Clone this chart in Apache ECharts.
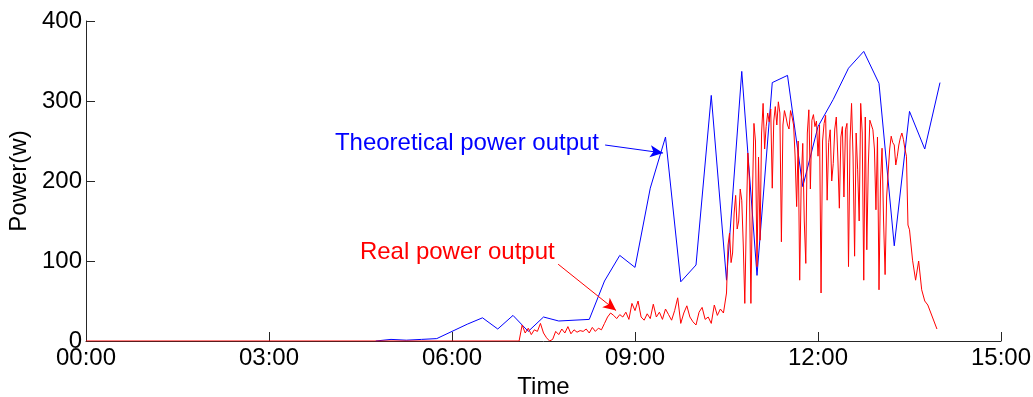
<!DOCTYPE html>
<html>
<head>
<meta charset="utf-8">
<script src="https://cdn.jsdelivr.net/npm/echarts@6/dist/echarts.min.js"></script>
<style>
  html, body { margin: 0; padding: 0; background: #fff; }
  #chart { width: 1033px; height: 397px; }
</style>
</head>
<body>
<div id="chart"></div>
<script>
// theoretical output, sampled every 15 min from 04:45
var blueStart = 4.75;
var blueStep = 0.25;
var blueValues = [0, 2, 1, 2, 3, 12, 21, 29, 15, 32, 12, 30, 25, 26, 27, 75, 107, 92, 191, 255,
    74, 95, 307, 76, 337, 82, 323, 332, 193, 268, 302, 341, 362, 322, 119, 287, 240, 323];

// real output: zero until 07:06, then three stretches
var redQuietStart = 7.1, redQuietStep = 0.05;
var redQuiet = [
    0, 20, 10, 16, 8, 14, 12, 22, 10, 4, 0, 2, 12, 8, 15, 10, 18, 9, 14, 11, 13, 12, 15, 10, 17, 12, 16, 14, 22,
    30, 35, 32, 28, 33, 30, 36, 27, 47, 38, 50, 30, 26, 34, 28, 46, 30, 36, 27, 40, 33, 26, 38, 54, 22,
    35, 44, 30, 24, 20, 36, 42, 27, 30, 22, 45, 32, 40, 35
];
var redBusyStart = 10.5, redBusyStep = 0.025;
var redBusy = [
    60, 120, 135, 98, 110, 160, 182, 140, 150, 190, 176, 120, 47, 150, 235, 200, 47, 180, 272, 250,
    93, 230, 126, 260, 297, 240, 268, 285, 274, 290, 191, 275, 293, 270, 299, 285, 124, 270, 288, 280,
    270, 265, 288, 280, 270, 230, 168, 250, 76, 200, 247, 150, 97, 260, 289, 190, 276, 283, 268, 275,
    231, 270, 60, 250, 272, 282, 176, 248, 264, 200, 222, 265, 280, 230, 166, 255, 268, 180, 264, 272,
    93, 250, 297, 230, 106, 260, 214, 150, 297, 260, 76, 280, 114, 220, 276, 270, 264, 240, 164, 255,
    64, 200, 241, 150, 83, 180, 210, 240, 256, 248, 245, 220, 231, 245, 254, 260, 252, 240, 231, 145,
    139
];
var redTailStart = 13.55, redTailStep = 0.05;
var redTail = [101, 76, 100, 64, 50, 45, 35, 25, 15];

var blueLabel = 'Theoretical power output';
var redLabel = 'Real power output';

function toPoints(values, start, step) {
    return values.map(function (v, i) { return [start + i * step, v]; });
}
var blueData = toPoints(blueValues, blueStart, blueStep);
var redData = [[0, 0]]
    .concat(toPoints(redQuiet, redQuietStart, redQuietStep))
    .concat(toPoints(redBusy, redBusyStart, redBusyStep))
    .concat(toPoints(redTail, redTailStart, redTailStep));

var font = '"Liberation Sans", Arial, sans-serif';
var chart = echarts.init(document.getElementById('chart'));

var axisCommon = {
    axisLine: { show: true, lineStyle: { color: '#262626', width: 1 } },
    axisTick: { show: true, inside: true, length: 9, lineStyle: { color: '#262626' } },
    splitLine: { show: false },
    nameTextStyle: { color: '#000', fontSize: 24, fontFamily: font }
};

chart.setOption({
    animation: false,
    grid: { left: 86, right: 32, top: 21, bottom: 56, outerBoundsMode: 'none', containLabel: false },
    xAxis: Object.assign({}, axisCommon, {
        type: 'value',
        min: 0, max: 15, interval: 3,
        name: 'Time', nameLocation: 'middle', nameGap: 31,
        axisLabel: {
            color: '#000', fontSize: 24, fontFamily: font, margin: 5,
            formatter: function (v) { return (v < 10 ? '0' : '') + v + ':00'; }
        }
    }),
    yAxis: Object.assign({}, axisCommon, {
        type: 'value',
        min: 0, max: 400, interval: 100,
        name: 'Power(w)', nameLocation: 'middle', nameGap: 54,
        axisLabel: { color: '#000', fontSize: 24, fontFamily: font, margin: 4 }
    }),
    series: [
        {
            name: 'Theoretical', type: 'line', data: blueData, showSymbol: false, z: 2,
            lineStyle: { color: '#0000ff', width: 1 },
            markLine: {
                silent: true, symbol: ['none', 'arrow'], symbolSize: [9, 13],
                label: { show: false },
                lineStyle: { color: '#0000ff', width: 1, type: 'solid' },
                data: [[{ coord: [8.51, 245] }, { coord: [9.46, 235] }]]
            }
        },
        {
            name: 'Real', type: 'line', data: redData, showSymbol: false, z: 3,
            lineStyle: { color: '#ff0000', width: 1 },
            markLine: {
                silent: true, symbol: ['none', 'arrow'], symbolSize: [9, 13],
                label: { show: false },
                lineStyle: { color: '#ff0000', width: 1, type: 'solid' },
                data: [[{ coord: [7.74, 96] }, { coord: [8.69, 38] }]]
            }
        }
    ]
});

var pb = chart.convertToPixel({ gridIndex: 0 }, [4.08, 247]);
var pr = chart.convertToPixel({ gridIndex: 0 }, [4.49, 111]);
chart.setOption({
    graphic: [
        { type: 'text', x: pb[0], y: pb[1], style: { text: blueLabel, fill: '#0000ff', font: '24px ' + font, verticalAlign: 'middle' } },
        { type: 'text', x: pr[0], y: pr[1], style: { text: redLabel, fill: '#ff0000', font: '24px ' + font, verticalAlign: 'middle' } }
    ]
});
</script>
</body>
</html>
